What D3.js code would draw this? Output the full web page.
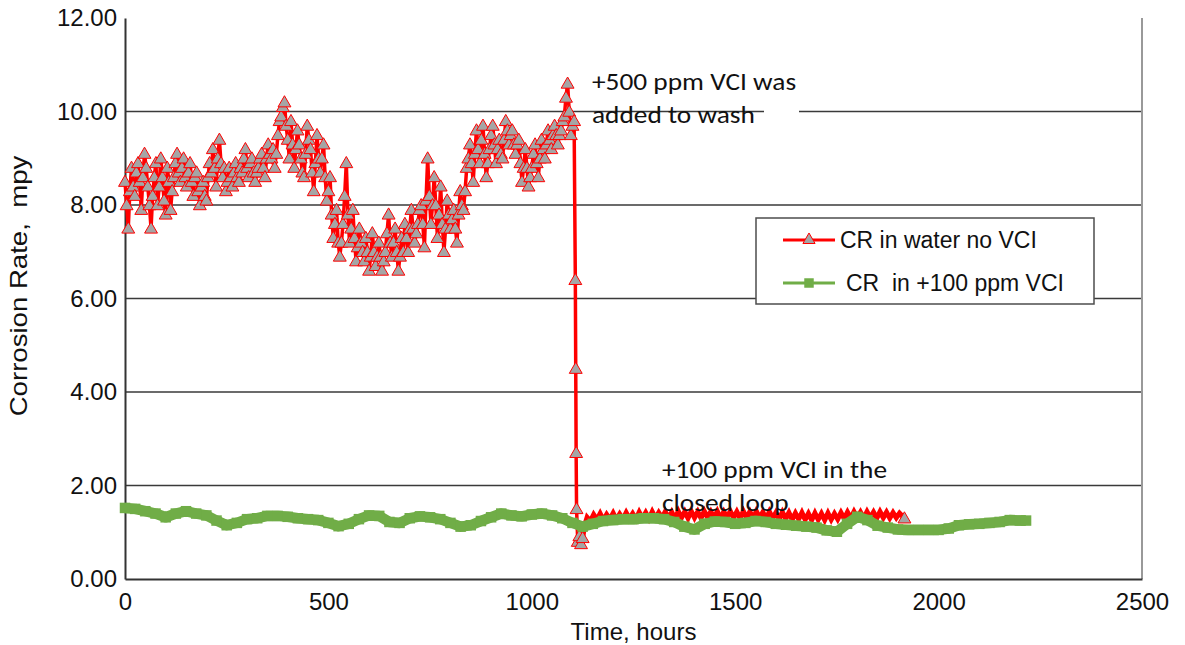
<!DOCTYPE html>
<html>
<head>
<meta charset="utf-8">
<script src="https://cdn.jsdelivr.net/npm/d3@7"></script>
<style>
    body { margin: 0; background: #fff; }
    svg { display: block; font-family: "Liberation Sans", Arial, sans-serif; }
    text { white-space: pre; }
</style>
</head>
<body>
<svg id="chart" width="1185" height="645"></svg>
<script>
// CR in water no VCI : [hours, mpy], markers drawn on each point
const redMain = [
    [0, 8.5], [4, 8.0], [8, 7.5], [12, 8.3], [16, 8.8], [20, 8.4], [24, 8.2], [28, 8.7],
    [32, 8.9], [36, 8.5], [40, 7.9], [44, 8.6], [48, 9.1], [52, 8.8], [56, 8.4], [60, 8.0],
    [64, 7.5], [68, 8.2], [72, 8.6], [76, 8.9], [80, 8.0], [84, 8.4], [88, 9.0], [92, 8.6],
    [96, 8.1], [100, 7.8], [104, 8.8], [108, 8.5], [112, 7.9], [116, 8.3], [120, 8.6], [124, 8.9],
    [128, 9.1], [132, 8.7], [136, 8.5], [140, 8.8], [144, 9.0], [148, 8.6], [152, 8.4], [156, 8.7],
    [160, 8.9], [164, 8.5], [168, 8.2], [172, 8.6], [176, 8.7], [180, 8.3], [184, 8.0], [188, 8.4],
    [192, 8.5], [196, 8.2], [200, 8.1], [204, 8.6], [208, 8.9], [212, 8.7], [216, 9.2], [220, 8.8],
    [224, 8.4], [228, 9.0], [232, 9.4], [236, 8.9], [240, 8.6], [244, 8.8], [248, 8.3], [252, 8.5],
    [256, 8.8], [260, 8.6], [264, 8.4], [268, 8.7], [272, 8.9], [276, 8.6], [280, 8.5], [284, 8.8],
    [288, 8.7], [292, 9.0], [296, 9.2], [300, 8.8], [304, 8.6], [308, 8.9], [312, 9.0], [316, 8.7],
    [320, 8.5], [324, 8.7], [328, 8.8], [332, 9.0], [336, 9.1], [340, 8.8], [344, 8.6], [348, 9.0],
    [352, 9.3], [356, 9.1], [360, 9.0], [364, 9.2], [368, 8.8], [372, 9.1], [376, 9.5], [380, 9.8],
    [384, 9.9], [388, 10.1], [392, 10.2], [396, 9.7], [400, 9.4], [404, 9.0], [408, 9.8], [412, 9.3],
    [416, 8.8], [420, 9.2], [424, 9.6], [428, 9.3], [432, 9.0], [436, 8.7], [440, 8.6], [444, 9.1],
    [448, 9.7], [452, 9.4], [456, 9.2], [460, 8.7], [464, 8.3], [468, 8.9], [472, 9.5], [476, 9.0],
    [480, 8.7], [484, 9.0], [488, 9.3], [492, 8.6], [496, 8.1], [500, 8.3], [504, 8.6], [508, 7.8],
    [512, 7.3], [516, 7.6], [520, 7.9], [524, 7.2], [528, 6.9], [532, 7.2], [536, 7.6], [540, 8.2],
    [544, 8.9], [548, 7.8], [552, 7.2], [556, 7.5], [560, 7.9], [564, 7.3], [568, 6.8], [572, 7.1],
    [576, 7.5], [580, 7.2], [584, 7.0], [588, 6.8], [592, 7.3], [596, 7.0], [600, 6.6], [604, 6.9],
    [608, 7.4], [612, 7.0], [616, 6.7], [620, 6.9], [624, 7.2], [628, 6.9], [632, 6.6], [636, 6.8],
    [640, 7.0], [644, 7.4], [648, 7.8], [652, 7.2], [656, 6.9], [660, 7.2], [664, 7.5], [668, 7.0],
    [672, 6.6], [676, 6.9], [680, 7.3], [684, 7.0], [688, 7.6], [692, 7.3], [696, 7.0], [700, 7.5],
    [704, 7.9], [708, 7.5], [712, 7.2], [716, 7.4], [720, 7.6], [724, 7.9], [728, 8.0], [732, 7.6],
    [736, 7.1], [740, 8.1], [744, 9.0], [748, 8.2], [752, 7.6], [756, 8.0], [760, 8.6], [764, 8.0],
    [768, 7.3], [772, 7.8], [776, 8.4], [780, 7.6], [784, 7.0], [788, 7.5], [792, 8.1], [796, 7.8],
    [800, 7.5], [804, 7.7], [808, 7.9], [812, 7.5], [816, 7.2], [820, 7.8], [824, 8.3], [828, 8.0],
    [832, 7.9], [836, 8.3], [840, 8.8], [844, 9.0], [848, 9.3], [852, 8.9], [856, 8.5], [860, 9.1],
    [864, 9.6], [868, 9.2], [872, 8.9], [876, 9.4], [880, 9.7], [884, 9.1], [888, 8.6], [892, 8.9],
    [896, 9.2], [900, 9.5], [904, 9.7], [908, 9.3], [912, 8.9], [916, 9.2], [920, 9.4], [924, 9.1],
    [928, 9.0], [932, 9.4], [936, 9.8], [940, 9.6], [944, 9.3], [948, 9.5], [952, 9.6], [956, 9.3],
    [960, 9.1], [964, 9.3], [968, 9.4], [972, 8.9], [976, 8.5], [980, 8.8], [984, 9.2], [988, 8.8],
    [992, 8.4], [996, 8.6], [1000, 8.8], [1004, 9.1], [1008, 9.3], [1012, 8.9], [1016, 8.6], [1020, 9.0],
    [1024, 9.4], [1028, 9.2], [1032, 9.0], [1036, 9.3], [1040, 9.6], [1044, 9.4], [1048, 9.2], [1052, 9.5],
    [1056, 9.7], [1060, 9.5], [1064, 9.3], [1068, 9.5], [1072, 9.6], [1076, 9.8], [1080, 9.9], [1084, 10.3],
    [1088, 10.6], [1092, 10.0], [1096, 9.5], [1100, 9.7], [1104, 9.8],
    [1107, 6.4], [1108, 4.5], [1109, 2.7], [1110, 1.5],
    [1113, 0.8], [1117, 0.92], [1121, 0.75], [1125, 0.88]
];

// after the drop the readings form a thin band, drawn as a line only
const redTail = [
    [1125, 0.88], [1130, 1.15], [1136, 1.32], [1144, 1.24], [1152, 1.38], [1160, 1.27], [1168, 1.40],
    [1176, 1.26], [1184, 1.38], [1192, 1.28], [1200, 1.41], [1208, 1.27], [1216, 1.39], [1224, 1.28],
    [1232, 1.42], [1240, 1.29], [1248, 1.40], [1256, 1.28], [1264, 1.43], [1272, 1.30], [1280, 1.42],
    [1288, 1.29], [1296, 1.44], [1304, 1.30], [1312, 1.42], [1320, 1.31], [1328, 1.44], [1336, 1.30],
    [1344, 1.43], [1352, 1.29], [1360, 1.45], [1368, 1.31], [1376, 1.44], [1384, 1.30], [1392, 1.45],
    [1400, 1.31], [1408, 1.44], [1416, 1.30], [1424, 1.45], [1432, 1.32], [1440, 1.44], [1448, 1.31],
    [1456, 1.45], [1464, 1.30], [1472, 1.44], [1480, 1.32], [1488, 1.45], [1496, 1.31], [1504, 1.44],
    [1512, 1.30], [1520, 1.45], [1528, 1.31], [1536, 1.44], [1544, 1.30], [1552, 1.45], [1560, 1.31],
    [1568, 1.43], [1576, 1.29], [1584, 1.44], [1592, 1.30], [1600, 1.42], [1608, 1.28], [1616, 1.43],
    [1624, 1.29], [1632, 1.42], [1640, 1.27], [1648, 1.41], [1656, 1.28], [1664, 1.42], [1672, 1.27],
    [1680, 1.40], [1688, 1.26], [1696, 1.41], [1704, 1.27], [1712, 1.40], [1720, 1.26], [1728, 1.41],
    [1736, 1.27], [1744, 1.40], [1752, 1.28], [1760, 1.42], [1768, 1.29], [1776, 1.43], [1784, 1.30],
    [1792, 1.44], [1800, 1.31], [1808, 1.43], [1816, 1.30], [1824, 1.44], [1832, 1.31], [1840, 1.43],
    [1848, 1.30], [1856, 1.44], [1864, 1.31], [1872, 1.43], [1880, 1.30], [1888, 1.42], [1896, 1.31],
    [1904, 1.41], [1916, 1.30]
];

// CR in +100 ppm VCI : [hours, mpy]
const greenSeries = [
    [0, 1.52], [25, 1.50], [50, 1.45], [75, 1.40], [100, 1.32], [125, 1.40], [150, 1.45], [175, 1.40],
    [200, 1.36], [225, 1.25], [250, 1.15], [275, 1.20], [300, 1.28], [325, 1.30], [350, 1.35], [375, 1.35],
    [400, 1.33], [425, 1.30], [450, 1.28], [475, 1.26], [500, 1.20], [525, 1.13], [550, 1.18], [575, 1.28],
    [600, 1.36], [625, 1.35], [650, 1.22], [675, 1.20], [700, 1.30], [725, 1.34], [750, 1.32], [775, 1.28],
    [800, 1.20], [825, 1.12], [850, 1.15], [875, 1.24], [900, 1.32], [925, 1.40], [950, 1.36], [975, 1.34],
    [1000, 1.38], [1025, 1.40], [1050, 1.36], [1075, 1.30], [1100, 1.20], [1125, 1.12], [1150, 1.18], [1175, 1.24],
    [1200, 1.26], [1225, 1.28], [1250, 1.28], [1275, 1.30], [1300, 1.30], [1325, 1.28], [1350, 1.22], [1375, 1.12],
    [1400, 1.06], [1425, 1.18], [1450, 1.23], [1475, 1.22], [1500, 1.18], [1525, 1.20], [1550, 1.24], [1575, 1.22],
    [1600, 1.18], [1625, 1.16], [1650, 1.14], [1675, 1.12], [1700, 1.10], [1725, 1.04], [1750, 1.01], [1775, 1.18],
    [1800, 1.33], [1825, 1.26], [1850, 1.14], [1875, 1.10], [1900, 1.06], [1925, 1.05], [1950, 1.05], [1975, 1.05],
    [2000, 1.05], [2025, 1.08], [2050, 1.15], [2075, 1.17], [2100, 1.18], [2125, 1.20], [2150, 1.22], [2175, 1.26],
    [2200, 1.25], [2215, 1.25]
];

const xTicks = [0, 500, 1000, 1500, 2000, 2500];
const yTicks = [0, 2, 4, 6, 8, 10, 12];
const legendLabels = ["CR in water no VCI", "CR  in +100 ppm VCI"];
const noteWash = ["+500 ppm VCI was", "added to wash"];
const noteLoop = ["+100 ppm VCI in the", "closed loop"];

const RED = "#FF0000";
const GREEN = "#70AD47";
const GREY = "#A5A5A5";

const area = { left: 125, right: 1142, top: 18, bottom: 579 };

function drawChart() {
    let svg = d3.select("#chart");

    let scX = d3.scaleLinear().domain([0, 2500]).range([area.left, area.right]);
    let scY = d3.scaleLinear().domain([0, 12]).range([area.bottom, area.top]);

    // horizontal gridlines
    svg.append("g")
        .selectAll("line")
        .data(yTicks.filter(d => d > 0 && d < 12))
        .enter()
        .append("line")
        .attr("x1", area.left)
        .attr("x2", area.right)
        .attr("y1", d => scY(d))
        .attr("y2", d => scY(d))
        .style("stroke", "#3a3a3a")
        .style("stroke-width", 1.3);

    // right border of the plot area
    svg.append("line")
        .attr("x1", area.right).attr("x2", area.right)
        .attr("y1", area.top).attr("y2", area.bottom)
        .style("stroke", "#999")
        .style("stroke-width", 2);

    let axisY = d3.axisLeft(scY).tickValues(yTicks).tickSize(0).tickPadding(8)
        .tickFormat(d3.format(".2f"));
    let axisX = d3.axisBottom(scX).tickValues(xTicks).tickSize(0).tickPadding(14)
        .tickFormat(d3.format("d"));

    let gy = svg.append("g")
        .attr("transform", `translate(${area.left}, 0)`)
        .call(axisY);
    let gx = svg.append("g")
        .attr("transform", `translate(0, ${area.bottom})`)
        .call(axisX);

    [gx, gy].forEach(g => {
        g.select(".domain").style("stroke", "#333").style("stroke-width", 2);
        g.selectAll("text")
            .style("font-size", "24px")
            .style("font-family", "'Liberation Sans', Arial, sans-serif")
            .style("fill", "#111");
    });

    // axis titles
    svg.append("text")
        .attr("x", (area.left + area.right) / 2)
        .attr("y", 640)
        .attr("text-anchor", "middle")
        .style("font-size", "24px")
        .style("fill", "#111")
        .text("Time, hours");

    svg.append("text")
        .attr("transform", `translate(27, 286) rotate(-90) scale(1.2, 1)`)
        .attr("text-anchor", "middle")
        .style("font-size", "23px")
        .style("fill", "#111")
        .text("Corrosion Rate,  mpy");

    // gap in the 10.00 gridline behind the note box
    svg.append("rect")
        .attr("x", 764).attr("y", scY(10) - 4)
        .attr("width", 35).attr("height", 8)
        .style("fill", "#fff");

    let line = d3.line().x(d => scX(d[0])).y(d => scY(d[1]));
    let tri = d3.symbol().type(d3.symbolTriangle).size(72);
    let sq = d3.symbol().type(d3.symbolSquare).size(110);

    // red series
    svg.append("path")
        .attr("d", line(redTail))
        .attr("fill", "none")
        .attr("stroke", RED)
        .attr("stroke-width", 5);
    svg.append("path")
        .attr("d", line(redMain))
        .attr("fill", "none")
        .attr("stroke", RED)
        .attr("stroke-width", 3.5);

    let redMarks = redMain.concat([redTail[redTail.length - 1]]);
    svg.append("g")
        .selectAll("path")
        .data(redMarks)
        .enter()
        .append("path")
        .attr("d", tri)
        .attr("transform", d => `translate(${scX(d[0])}, ${scY(d[1]) + 1})`)
        .style("fill", GREY)
        .style("stroke", RED)
        .style("stroke-width", 1);

    // green series
    svg.append("path")
        .attr("d", line(greenSeries))
        .attr("fill", "none")
        .attr("stroke", GREEN)
        .attr("stroke-width", 10.5)
        .attr("stroke-linejoin", "round");
    svg.append("g")
        .selectAll("path")
        .data(greenSeries)
        .enter()
        .append("path")
        .attr("d", sq)
        .attr("transform", d => `translate(${scX(d[0])}, ${scY(d[1])})`)
        .style("fill", GREEN);

    // notes
    let notes = [[noteWash, 592, 90], [noteLoop, 662, 478]];
    notes.forEach(([lines, x, y]) => {
        svg.append("g")
            .attr("transform", `translate(${x}, ${y}) scale(1.14, 1)`)
            .selectAll("text")
            .data(lines)
            .enter()
            .append("text")
            .attr("x", 0)
            .attr("y", (d, i) => i * 33)
            .style("font-family", "Carlito, Calibri, 'Open Sans', sans-serif")
            .style("font-size", "24px")
            .style("fill", "#111")
            .text(d => d);
    });

    drawLegend(svg);
}

function drawLegend(svg) {
    let box = { x: 756, y: 218, w: 338, h: 86 };
    svg.append("rect")
        .attr("x", box.x).attr("y", box.y)
        .attr("width", box.w).attr("height", box.h)
        .style("fill", "#fff")
        .style("stroke", "#4d4d4d")
        .style("stroke-width", 1.5);

    let rows = [
        { label: legendLabels[0], color: RED, y: 240, marker: d3.symbolTriangle, fill: GREY, size: 64, dx: 840 },
        { label: legendLabels[1], color: GREEN, y: 283, marker: d3.symbolSquare, fill: GREEN, size: 90, dx: 846 }
    ];

    rows.forEach(r => {
        svg.append("line")
            .attr("x1", 783).attr("x2", 835)
            .attr("y1", r.y).attr("y2", r.y)
            .style("stroke", r.color)
            .style("stroke-width", 3);
        svg.append("path")
            .attr("d", d3.symbol().type(r.marker).size(r.size))
            .attr("transform", `translate(809, ${r.y})`)
            .style("fill", r.fill)
            .style("stroke", r.color === RED ? RED : "none")
            .style("stroke-width", 1);
        svg.append("text")
            .attr("x", r.dx)
            .attr("y", r.y + 8)
            .style("font-size", "23px")
            .style("fill", "#111")
            .text(r.label);
    });
}

drawChart();
</script>
</body>
</html>
